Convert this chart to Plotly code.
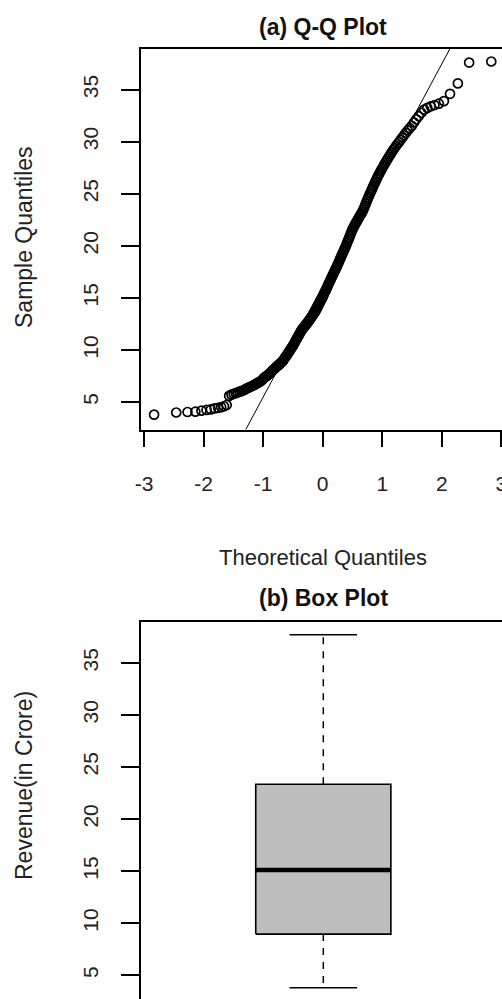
import numpy as np
import plotly.graph_objects as go
from statistics import NormalDist

# Revenue (in Crore), sorted sample values
revenue = [
    3.80, 4.00, 4.05, 4.08, 4.18, 4.25, 4.30, 4.40, 4.45, 4.52, 4.60, 4.72,
    5.60, 5.72, 5.80, 5.86, 5.93, 6.00, 6.05, 6.12, 6.20, 6.30,
    6.36, 6.42, 6.50, 6.55, 6.62, 6.70, 6.76, 6.84, 6.90, 6.98, 7.05, 7.15, 7.30,
    7.38, 7.45, 7.52, 7.60, 7.70, 7.78, 7.88, 7.98, 8.10,
    8.18, 8.25, 8.34, 8.42, 8.50, 8.58, 8.66, 8.74, 8.82, 8.90,
    9.00, 9.12, 9.25, 9.36, 9.48, 9.60, 9.72, 9.85, 9.96, 10.08, 10.20, 10.32, 10.44,
    10.56, 10.70, 10.84, 10.98, 11.10, 11.24, 11.38, 11.50, 11.62, 11.75, 11.88, 12.00,
    12.08, 12.14, 12.25, 12.36, 12.40, 12.52, 12.58, 12.70, 12.80, 12.86, 12.98, 13.10,
    13.18, 13.26, 13.38, 13.48, 13.56, 13.68, 13.80, 13.92,
    14.05, 14.18, 14.32, 14.45, 14.58, 14.70, 14.84, 14.96, 15.10,
    15.25, 15.40, 15.55, 15.68, 15.82, 15.98, 16.12, 16.28, 16.42, 16.56, 16.70, 16.85,
    17.00, 17.14, 17.28, 17.42, 17.56, 17.70, 17.84,
    17.98, 18.14, 18.30, 18.46, 18.62, 18.78, 18.94, 19.10, 19.26, 19.42, 19.58, 19.74,
    19.90, 20.06,
    20.25, 20.44, 20.62, 20.80, 21.00, 21.18, 21.38, 21.56,
    21.72, 21.86, 22.00, 22.14, 22.28, 22.42, 22.56, 22.70, 22.84, 22.98, 23.12, 23.26, 23.42,
    23.62, 23.84, 24.05, 24.26, 24.48, 24.68, 24.90, 25.10, 25.32, 25.52, 25.74, 25.95, 26.16,
    26.38, 26.58, 26.78, 26.98, 27.18, 27.38, 27.58, 27.78, 27.98,
    28.18, 28.38, 28.58, 28.78, 28.98, 29.18, 29.38, 29.58, 29.78, 29.96,
    30.18, 30.40, 30.62, 30.85, 31.08, 31.30, 31.52,
    31.85, 32.15, 32.45, 32.78, 33.08,
    33.25, 33.40, 33.52, 33.65,
    33.90, 34.60, 35.60, 37.60, 37.70,
]

x_ticks = [-3, -2, -1, 0, 1, 2, 3]
x_ticktext = ["-3", "-2", "-1", "0", "1", "2", "3"]
y_ticks = [5, 10, 15, 20, 25, 30, 35]
y_ticktext = ["5", "10", "15", "20", "25", "30", "35"]

title_a = "(a) Q-Q Plot"
title_b = "(b) Box Plot"
xlab_a = "Theoretical Quantiles"
ylab_a = "Sample Quantiles"
ylab_b = "Revenue(in Crore)"

FONT = "Liberation Sans, Arial, sans-serif"
W, H = 502, 999

# ---- Q-Q computations (as R's qqnorm / qqline) ----
nd = NormalDist()
sample = np.sort(np.array(revenue))
n = len(sample)
a = 3 / 8 if n <= 10 else 0.5
probs = (np.arange(1, n + 1) - a) / (n + 1 - 2 * a)
theo = np.array([nd.inv_cdf(p) for p in probs])

q1, q3 = np.quantile(sample, [0.25, 0.75])
z1, z3 = nd.inv_cdf(0.25), nd.inv_cdf(0.75)
slope = (q3 - q1) / (z3 - z1)
intercept = q1 - slope * z1
line_x = np.array([-4.0, 4.0])
line_y = intercept + slope * line_x

# ---- Box stats (Tukey five-number summary as R's boxplot) ----
def fivenum(v):
    v = np.sort(v)
    m = len(v)
    n4 = np.floor((m + 3) / 2) / 2
    d = np.array([1, n4, (m + 1) / 2, m + 1 - n4, m]) - 1
    return 0.5 * (v[np.floor(d).astype(int)] + v[np.ceil(d).astype(int)])

vmin, hinge_lo, med, hinge_hi, vmax = fivenum(sample)
iqr = hinge_hi - hinge_lo
lo_w = sample[sample >= hinge_lo - 1.5 * iqr].min()
hi_w = sample[sample <= hinge_hi + 1.5 * iqr].max()

c, hw, cw = 1.0, 0.2, 0.1

fig = go.Figure()

fig.add_trace(go.Scatter(
    x=theo, y=sample, mode="markers", xaxis="x", yaxis="y",
    marker=dict(symbol="circle-open", size=9, color="black", line=dict(width=1.7)),
    hoverinfo="skip"))
fig.add_trace(go.Scatter(
    x=line_x, y=line_y, mode="lines", xaxis="x", yaxis="y",
    line=dict(color="black", width=1), hoverinfo="skip"))

# box body
fig.add_trace(go.Scatter(
    x=[c - hw, c + hw, c + hw, c - hw, c - hw],
    y=[hinge_lo, hinge_lo, hinge_hi, hinge_hi, hinge_lo],
    mode="lines", fill="toself", fillcolor="#bebebe",
    line=dict(color="black", width=1.6), xaxis="x2", yaxis="y2", hoverinfo="skip"))
# median
fig.add_trace(go.Scatter(
    x=[c - hw, c + hw], y=[med, med], mode="lines",
    line=dict(color="black", width=4.5), xaxis="x2", yaxis="y2", hoverinfo="skip"))
# whiskers (dashed)
for y0, y1 in [(hinge_hi, hi_w), (hinge_lo, lo_w)]:
    fig.add_trace(go.Scatter(
        x=[c, c], y=[y0, y1], mode="lines",
        line=dict(color="black", width=1.5, dash="7px,7px"),
        xaxis="x2", yaxis="y2", hoverinfo="skip"))
# caps
for yv in [hi_w, lo_w]:
    fig.add_trace(go.Scatter(
        x=[c - cw, c + cw], y=[yv, yv], mode="lines",
        line=dict(color="black", width=1.6), xaxis="x2", yaxis="y2", hoverinfo="skip"))

def py(p):
    return 1 - p / H

axis_common = dict(showgrid=False, zeroline=False, linecolor="black", linewidth=1.5,
                   tickcolor="black", tickwidth=1.5, automargin=False,
                   ticklabeloverflow="allow",
                   tickfont=dict(family=FONT, size=21, color="#222"))

fig.update_layout(
    template="none",
    width=W, height=H, margin=dict(l=0, r=0, t=0, b=0, pad=0),
    paper_bgcolor="white", plot_bgcolor="white", showlegend=False,
    xaxis=dict(domain=[141 / W, 1], range=[-3.05, 3.01], tickmode="array",
               tickvals=x_ticks, ticktext=x_ticktext, ticks="outside",
               ticklen=16, showline=True, mirror=True, anchor="y",
               ticklabelstandoff=19, **axis_common),
    yaxis=dict(domain=[py(429.5), py(48.5)], range=[2.37, 38.95], tickmode="array",
               tickvals=y_ticks, ticktext=y_ticktext, ticks="outside",
               ticklen=18, tickangle=-90, showline=True, anchor="x",
               ticklabelstandoff=15, **axis_common),
    xaxis2=dict(domain=[141 / W, 1], range=[0.4603, 1.529], showticklabels=False,
                showline=True, side="top", anchor="y2", ticks="", **axis_common),
    yaxis2=dict(domain=[0, py(621.7)], range=[2.72, 38.95], tickmode="array",
                tickvals=y_ticks, ticktext=y_ticktext, ticks="outside",
                ticklen=18, tickangle=-90, showline=True, anchor="x2",
                ticklabelstandoff=15, **axis_common),
    annotations=[
        dict(text=f"<b>{title_a}</b>", x=323 / W, y=py(27), xref="paper", yref="paper",
             showarrow=False, xanchor="center", yanchor="middle",
             font=dict(family=FONT, size=23, color="#111")),
        dict(text=xlab_a, x=323 / W, y=py(557), xref="paper", yref="paper",
             showarrow=False, xanchor="center", yanchor="middle",
             font=dict(family=FONT, size=22, color="#222")),
        dict(text=f"<b>{title_b}</b>", x=323 / W, y=py(598), xref="paper", yref="paper",
             showarrow=False, xanchor="center", yanchor="middle",
             font=dict(family=FONT, size=23, color="#111")),
        dict(text=ylab_a, x=24 / W, y=py(237), xref="paper", yref="paper",
             showarrow=False, xanchor="center", yanchor="middle", textangle=-90,
             font=dict(family=FONT, size=23, color="#222")),
        dict(text=ylab_b, x=24 / W, y=py(786), xref="paper", yref="paper",
             showarrow=False, xanchor="center", yanchor="middle", textangle=-90,
             font=dict(family=FONT, size=23, color="#222")),
    ],
)

post = ("document.body.style.margin='0';document.body.style.padding='0';"
        "document.body.style.overflow='hidden';"
        "document.documentElement.style.overflow='hidden';")
fig.write_html("out.html", post_script=post, config={"displayModeBar": False})
